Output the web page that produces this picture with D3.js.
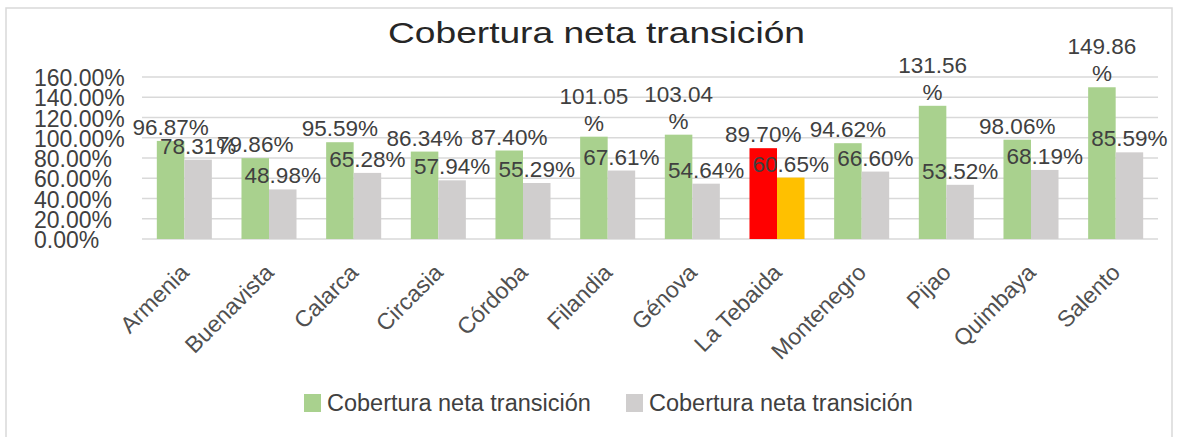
<!DOCTYPE html>
<html>
<head>
<meta charset="utf-8">
<script src="https://cdn.jsdelivr.net/npm/d3@7"></script>
<style>
  body { margin: 0; background: #fff; }
  text { font-family: "Liberation Sans", Arial, sans-serif; }
</style>
</head>
<body>
<div id="chart"></div>
<script>
// data
const municipios = ["Armenia", "Buenavista", "Calarca", "Circasia", "Córdoba", "Filandia",
  "Génova", "La Tebaida", "Montenegro", "Pijao", "Quimbaya", "Salento"];
const serieA = [96.87, 79.86, 95.59, 86.34, 87.40, 101.05, 103.04, 89.70, 94.62, 131.56, 98.06, 149.86];
const serieB = [78.31, 48.98, 65.28, 57.94, 55.29, 67.61, 54.64, 60.65, 66.60, 53.52, 68.19, 85.59];
const yTicks = [0, 20, 40, 60, 80, 100, 120, 140, 160];
const seriesName = "Cobertura neta transición";
const highlight = "La Tebaida";

const width = 1177, height = 437;
const margin = { left: 142, right: 19, top: 77, bottom: 198 };

const colors = { a: "#a9d18e", b: "#d0cece", aHi: "#ff0000", bHi: "#ffc000" };

const svg = d3.select("#chart").append("svg")
  .attr("width", width)
  .attr("height", height);

// chart border
svg.append("rect")
  .attr("x", 6).attr("y", 8)
  .attr("width", 1166).attr("height", 440)
  .attr("fill", "#fff")
  .attr("stroke", "#d9d9d9")
  .attr("stroke-width", 1.5);

const x = d3.scaleBand()
  .domain(municipios)
  .range([margin.left, width - margin.right])
  .paddingInner(0.35)
  .paddingOuter(0.175);

const xInner = d3.scaleBand()
  .domain(["a", "b"])
  .range([0, x.bandwidth()]);

const y = d3.scaleLinear()
  .domain([0, 160])
  .range([height - margin.bottom, margin.top]);

// title
svg.append("text")
  .attr("x", 388).attr("y", 43)
  .attr("textLength", 417)
  .attr("lengthAdjust", "spacingAndGlyphs")
  .attr("font-size", 30)
  .attr("fill", "#262626")
  .text(seriesName);

// gridlines
svg.append("g")
  .selectAll("line")
  .data(yTicks)
  .join("line")
  .attr("x1", margin.left)
  .attr("x2", width - margin.right)
  .attr("y1", d => y(d))
  .attr("y2", d => y(d))
  .attr("stroke", "#d9d9d9")
  .attr("stroke-width", 1.5);

// y labels (left aligned like the original)
svg.append("g")
  .selectAll("text")
  .data(yTicks)
  .join("text")
  .attr("x", 34)
  .attr("y", d => y(d) + 9)
  .attr("font-size", 23)
  .attr("fill", "#404040")
  .text(d => d3.format(".2f")(d) + "%");

// bars
const rows = municipios.map((m, i) => ({ name: m, a: serieA[i], b: serieB[i] }));

const group = svg.append("g")
  .selectAll("g")
  .data(rows)
  .join("g")
  .attr("transform", d => `translate(${x(d.name)},0)`);

group.append("rect")
  .attr("x", xInner("a"))
  .attr("y", d => y(d.a))
  .attr("width", xInner.bandwidth())
  .attr("height", d => y(0) - y(d.a))
  .attr("fill", d => d.name === highlight ? colors.aHi : colors.a);

group.append("rect")
  .attr("x", xInner("b"))
  .attr("y", d => y(d.b))
  .attr("width", xInner.bandwidth())
  .attr("height", d => y(0) - y(d.b))
  .attr("fill", d => d.name === highlight ? colors.bHi : colors.b);

// data labels (values over 100 wrap the % onto a second line)
function addLabel(key) {
  const t = group.append("text")
    .attr("x", xInner(key) + xInner.bandwidth() / 2)
    .attr("y", d => y(d[key]) - 6)
    .attr("text-anchor", "middle")
    .attr("font-size", 22.5)
    .attr("fill", "#404040");
  t.each(function(d) {
    const s = d3.format(".2f")(d[key]);
    const el = d3.select(this);
    if (d[key] >= 100) {
      el.append("tspan").attr("dy", -27).text(s);
      el.append("tspan").attr("x", xInner(key) + xInner.bandwidth() / 2).attr("dy", 27).text("%");
    } else {
      el.text(s + "%");
    }
  });
}
addLabel("a");
addLabel("b");

// x labels
svg.append("g")
  .selectAll("text")
  .data(municipios)
  .join("text")
  .attr("transform", d => `translate(${x(d) + x.bandwidth() / 2 + 6},274) rotate(-45)`)
  .attr("text-anchor", "end")
  .attr("font-size", 23)
  .attr("fill", "#505050")
  .text(d => d);

// legend
const legend = [
  { x: 304, color: colors.a },
  { x: 626, color: colors.b }
];
const lg = svg.append("g")
  .selectAll("g")
  .data(legend)
  .join("g")
  .attr("transform", d => `translate(${d.x},394)`);
lg.append("rect")
  .attr("width", 17).attr("height", 18)
  .attr("fill", d => d.color);
lg.append("text")
  .attr("x", 23).attr("y", 17)
  .attr("font-size", 23.5)
  .attr("fill", "#404040")
  .text(seriesName);
</script>
</body>
</html>
